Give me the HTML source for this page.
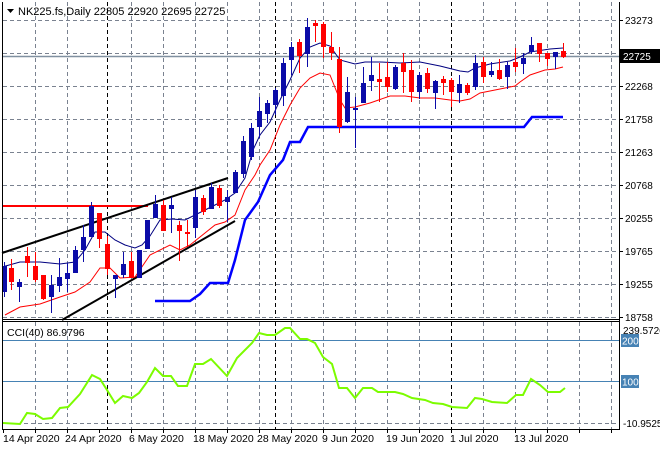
<!DOCTYPE html>
<html><head><meta charset="utf-8"><style>
html,body{margin:0;padding:0;background:#fff;}
svg{display:block;font-family:"Liberation Sans",sans-serif;}
</style></head><body>
<svg width="660" height="450" viewBox="0 0 660 450" xmlns="http://www.w3.org/2000/svg">
<rect width="660" height="450" fill="#fff"/>
<g stroke="#7a8290" stroke-width="1" stroke-dasharray="4,3" fill="none">
<path d="M3 20.5H619M3 53.5H619M3 86.5H619M3 119.5H619M3 152.5H619M3 185.5H619M3 218.5H619M3 251.5H619M3 284.5H619M3 317.5H619M3 423.5H619"/>
<path d="M35.5 2V318M67.5 2V318M131.5 2V318M163.5 2V318M195.5 2V318M227.5 2V318M259.5 2V318M291.5 2V318M323.5 2V318M355.5 2V318M387.5 2V318M419.5 2V318M483.5 2V318M515.5 2V318M547.5 2V318M579.5 2V318M611.5 2V318"/>
<path d="M35.5 322V429M67.5 322V429M131.5 322V429M163.5 322V429M195.5 322V429M227.5 322V429M259.5 322V429M291.5 322V429M323.5 322V429M355.5 322V429M387.5 322V429M419.5 322V429M483.5 322V429M515.5 322V429M547.5 322V429M579.5 322V429M611.5 322V429"/>
</g>
<g stroke="#000" stroke-width="1" stroke-dasharray="4,3" fill="none">
<path d="M107.5 2V318M275.5 2V318M451.5 2V318M107.5 322V429M275.5 322V429M451.5 322V429"/>
</g>
<line x1="2" y1="56.5" x2="619" y2="56.5" stroke="#8090a0" stroke-width="1.5"/>
<line x1="2" y1="206" x2="148" y2="206" stroke="#ff0000" stroke-width="2"/>
<line x1="2" y1="253" x2="228" y2="178" stroke="#000" stroke-width="2"/>
<line x1="62" y1="320" x2="235" y2="221" stroke="#000" stroke-width="2"/>
<polyline fill="none" stroke="#000080" stroke-width="1" points="2,267 20,262 40,262 60,264 75,262 85,250 95,232 105,232 115,240 125,245 135,248 142,245 150,236 160,220 172,219 185,220 195,215 205,210 215,205 225,200 235,193 245,178 253,150 260,135 270,122 280,100 290,80 300,58 310,47 320,43 330,46 340,60 355,64 365,62 380,62 400,63 420,62 440,66 460,71 468,72 475,68 490,64 510,61 520,57 530,52 550,49 563,48"/>
<polyline fill="none" stroke="#ff0000" stroke-width="1" points="5,315 20,307 40,304 60,297 75,292 90,282 100,268 110,268 120,278 135,277 150,255 170,245 180,250 190,245 200,237 215,225 225,222 235,215 245,190 255,175 260,165 270,150 280,125 290,105 300,88 310,78 320,73 330,75 340,100 345,108 355,107 370,103 390,96 405,96 420,98 435,98 450,100 460,101 470,99 480,93 495,90 505,88 515,86 520,82 530,75 545,70 555,69 563,67"/>
<polyline fill="none" stroke="#0000ff" stroke-width="2.5" points="155,301 190,301 200,294 210,283 228,283 235,260 245,220 258,202 270,175 283,160 290,142 300,142 308,127 524,127 532,117 563,117"/>
<g stroke-width="1">
<path stroke="#0b0ba8" d="M4.5 262V297M19.5 279V302M51.5 275V313M59.5 258V292M67.5 263V292M75.5 246V273M83.5 225V262M91.5 202V237M115.5 275V298M123.5 252V278M139.5 250V278M147.5 220V249M155.5 195V218M171.5 197V233M195.5 190V238M211.5 183V209M227.5 190V222M235.5 170V193M243.5 136V178M251.5 123V160M259.5 97V138M267.5 100V123M275.5 88V115M283.5 58V106M291.5 42V75M307.5 18V67M347.5 77V123M355.5 97V148M363.5 67V103M371.5 57V91M395.5 65V90M419.5 72V99M435.5 80V109M459.5 75V103M475.5 55V90M491.5 62V77M507.5 62V89M523.5 53V74M531.5 37V54M555.5 52V69"/>
<path stroke="#ff0000" d="M11.5 259V290M27.5 247V277M35.5 252V282M43.5 275V300M99.5 213V248M107.5 236V275M131.5 252V278M163.5 200V231M179.5 221V261M187.5 220V247M203.5 195V215M219.5 185V208M299.5 39V73M315.5 20V42M323.5 22V58M331.5 32V60M339.5 47V133M379.5 63V102M387.5 62V92M403.5 53V93M411.5 60V102M427.5 68V93M443.5 76V95M451.5 78V107M467.5 83V95M483.5 57V83M499.5 59V80M515.5 48V72M539.5 43V62M547.5 53V66M563.5 43V58"/>
</g>
<g fill="#0b0ba8">
<rect x="2" y="266" width="5" height="26"/><rect x="17" y="282" width="5" height="5"/><rect x="49" y="285" width="5" height="12"/><rect x="57" y="277" width="5" height="9"/><rect x="65" y="273" width="5" height="6"/><rect x="73" y="250" width="5" height="23"/><rect x="81" y="237" width="5" height="13"/><rect x="89" y="206" width="5" height="31"/><rect x="113" y="275" width="5" height="4"/><rect x="121" y="264" width="5" height="11"/><rect x="137" y="250" width="5" height="28"/><rect x="145" y="220" width="5" height="29"/><rect x="153" y="204" width="5" height="14"/><rect x="169" y="205" width="5" height="4"/><rect x="193" y="197" width="5" height="31"/><rect x="209" y="187" width="5" height="22"/><rect x="225" y="197" width="5" height="5"/><rect x="233" y="172" width="5" height="21"/><rect x="241" y="141" width="5" height="33"/><rect x="249" y="128" width="5" height="29"/><rect x="257" y="111" width="5" height="16"/><rect x="265" y="103" width="5" height="11"/><rect x="273" y="90" width="5" height="15"/><rect x="281" y="63" width="5" height="33"/><rect x="289" y="47" width="5" height="13"/><rect x="305" y="27" width="5" height="27"/><rect x="345" y="92" width="5" height="30"/><rect x="353" y="108" width="5" height="2"/><rect x="361" y="83" width="5" height="20"/><rect x="369" y="75" width="5" height="6"/><rect x="393" y="67" width="5" height="22"/><rect x="417" y="75" width="5" height="17"/><rect x="433" y="81" width="5" height="12"/><rect x="457" y="84" width="5" height="9"/><rect x="473" y="63" width="5" height="24"/><rect x="489" y="71" width="5" height="4"/><rect x="505" y="65" width="5" height="12"/><rect x="521" y="58" width="5" height="6"/><rect x="529" y="45" width="5" height="7"/><rect x="553" y="52" width="5" height="5"/>
</g>
<g fill="#ff0000">
<rect x="9" y="268" width="5" height="14"/><rect x="25" y="256" width="5" height="7"/><rect x="33" y="266" width="5" height="14"/><rect x="41" y="275" width="5" height="24"/><rect x="97" y="213" width="5" height="26"/><rect x="105" y="244" width="5" height="25"/><rect x="129" y="261" width="5" height="17"/><rect x="161" y="205" width="5" height="26"/><rect x="177" y="225" width="5" height="6"/><rect x="185" y="232" width="5" height="2"/><rect x="201" y="198" width="5" height="14"/><rect x="217" y="188" width="5" height="18"/><rect x="297" y="42" width="5" height="14"/><rect x="313" y="23" width="5" height="3"/><rect x="321" y="24" width="5" height="23"/><rect x="329" y="47" width="5" height="6"/><rect x="337" y="59" width="5" height="68"/><rect x="377" y="79" width="5" height="3"/><rect x="385" y="77" width="5" height="10"/><rect x="401" y="63" width="5" height="9"/><rect x="409" y="70" width="5" height="22"/><rect x="425" y="73" width="5" height="16"/><rect x="441" y="79" width="5" height="4"/><rect x="449" y="80" width="5" height="12"/><rect x="465" y="85" width="5" height="8"/><rect x="481" y="62" width="5" height="15"/><rect x="497" y="70" width="5" height="9"/><rect x="513" y="62" width="5" height="5"/><rect x="537" y="43" width="5" height="11"/><rect x="545" y="53" width="5" height="6"/><rect x="561" y="51" width="5" height="6"/>
</g>
<line x1="2" y1="340.5" x2="619" y2="340.5" stroke="#4682b4" stroke-width="1"/>
<line x1="2" y1="381.5" x2="619" y2="381.5" stroke="#4682b4" stroke-width="1"/>
<polyline fill="none" stroke="#7cfc00" stroke-width="2" points="3,423 20,424 27,413 35,414 43,419 52,418 60,408 68,407 80,394 92,375 100,379 107,390 115,403 123,396 132,398 139,393 147,382 155,368 163,376 171,376 178,386 187,386 195,364 203,364 211,359 227,376 237,358 252,343 259,333 267,335 275,335 285,328 290,328 300,339 307,339 315,343 323,357 332,364 339,388 347,388 355,398 363,388 372,388 378,392 395,392 403,394 412,398 425,400 433,403 443,404 452,407 467,408 475,398 482,399 492,402 507,403 516,395 523,395 531,379 540,385 548,392 555,392 560,392 565,388"/>
<g stroke="#000" stroke-width="1" fill="none">
<path d="M2.5 2V429.5H619.5V2"/>
<path d="M2 319.5H619M2 321.5H619"/>
<path d="M35.5 429V433M67.5 429V433M99.5 429V433M131.5 429V433M163.5 429V433M195.5 429V433M227.5 429V433M259.5 429V433M291.5 429V433M323.5 429V433M355.5 429V433M387.5 429V433M419.5 429V433M451.5 429V433M483.5 429V433M515.5 429V433M547.5 429V433M579.5 429V433M611.5 429V433M3.5 429V433"/>
<path d="M619 20.5H623M619 86.5H623M619 119.5H623M619 152.5H623M619 185.5H623M619 218.5H623M619 251.5H623M619 284.5H623M619 317.5H623"/>
</g>
<g font-size="10" fill="#000">
<text x="625" y="24">23273</text>
<text x="625" y="90">22268</text>
<text x="625" y="123">21758</text>
<text x="625" y="156">21263</text>
<text x="625" y="189">20768</text>
<text x="625" y="222">20255</text>
<text x="625" y="255">19765</text>
<text x="625" y="288">19255</text>
<text x="625" y="321">18758</text>
<text x="623" y="334">239.5726</text>
<text x="623" y="427">-10.9525</text>
</g>
<rect x="620" y="49" width="40" height="14" fill="#000"/>
<text x="623" y="60" font-size="10" fill="#fff">22725</text>
<rect x="621" y="334" width="18" height="13" fill="#4682b4"/>
<text x="622" y="344.5" font-size="10" fill="#fff">200</text>
<rect x="621" y="375" width="18" height="13" fill="#4682b4"/>
<text x="622" y="385.5" font-size="10" fill="#fff">100</text>
<g font-size="10.5" fill="#000">
<text x="3" y="442">14 Apr 2020</text>
<text x="65" y="442">24 Apr 2020</text>
<text x="129" y="442">6 May 2020</text>
<text x="193" y="442">18 May 2020</text>
<text x="257" y="442">28 May 2020</text>
<text x="322" y="442">9 Jun 2020</text>
<text x="386" y="442">19 Jun 2020</text>
<text x="450" y="442">1 Jul 2020</text>
<text x="514" y="442">13 Jul 2020</text>
</g>
<path d="M7 9H14L10.5 13Z" fill="#000"/>
<text x="18" y="15" font-size="11" fill="#000">NK225.fs,Daily  22805 22920 22695 22725</text>
<text x="7" y="336" font-size="10.5" fill="#000">CCI(40) 86.9796</text>
</svg>
</body></html>
